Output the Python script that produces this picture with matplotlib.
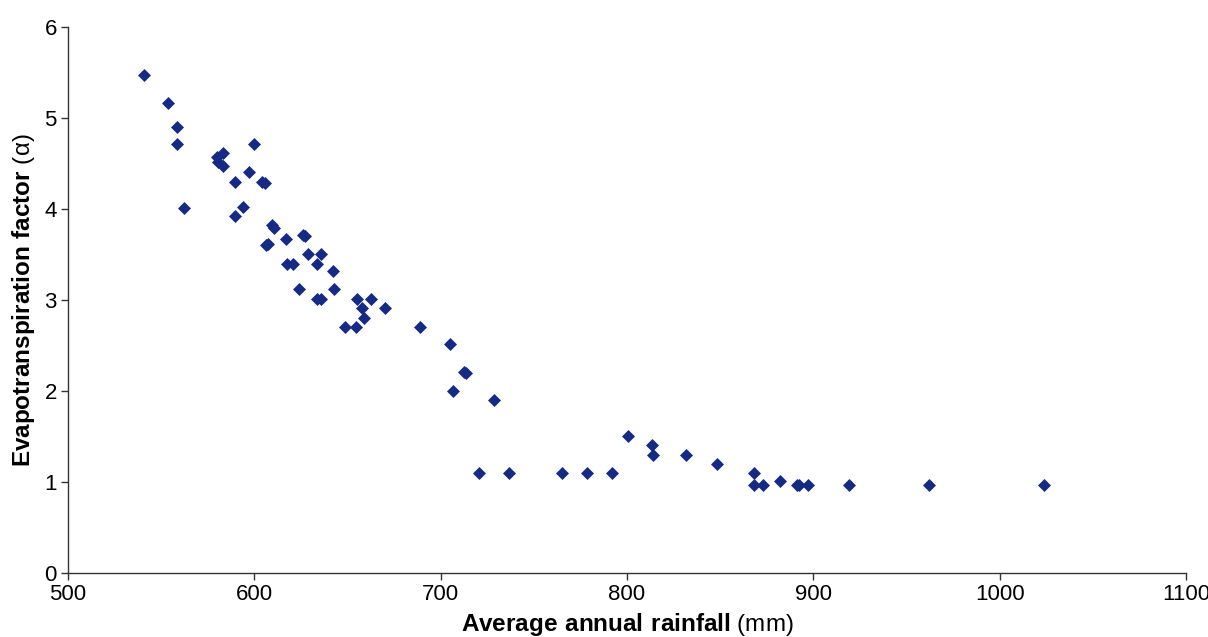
import numpy as np
import matplotlib.pyplot as plt

plt.rcParams['font.family'] = ['Liberation Sans', 'DejaVu Sans']
plt.rcParams['mathtext.fontset'] = 'custom'
plt.rcParams['mathtext.rm'] = 'Liberation Sans'
plt.rcParams['mathtext.bf'] = 'Liberation Sans:bold'

# rainfall (mm) and evapotranspiration factor
rainfall = [540.8, 553.7, 558.5, 558.5, 562.3, 599.8,
            579.8, 583.0, 580.5, 583.0, 589.6, 597.1, 604.0, 605.8,
            589.6, 594.1, 609.3, 610.6, 616.8, 626.0, 627.2, 606.0, 607.2,
            617.7, 620.6, 629.0, 635.6, 633.4, 642.0, 624.1, 643.0,
            633.8, 635.8, 655.1, 662.6, 658.0, 670.3, 659.0,
            648.5, 654.4, 689.0, 705.0, 712.4, 713.6, 706.8, 728.6,
            720.7, 736.8, 765.0, 778.3, 792.1, 800.7, 813.2, 813.8, 831.7,
            848.5, 868.2, 868.2, 872.8, 882.1, 891.0, 892.5, 897.3,
            919.2, 962.1, 1024.0]
alpha = [5.47, 5.16, 4.90, 4.71, 4.01, 4.71,
         4.575, 4.61, 4.52, 4.47, 4.30, 4.41, 4.30, 4.29,
         3.92, 4.02, 3.82, 3.79, 3.67, 3.71, 3.70, 3.60, 3.61,
         3.40, 3.40, 3.51, 3.51, 3.40, 3.32, 3.12, 3.12,
         3.01, 3.01, 3.01, 3.01, 2.91, 2.91, 2.80,
         2.70, 2.70, 2.70, 2.52, 2.21, 2.20, 2.00, 1.90,
         1.10, 1.10, 1.10, 1.10, 1.10, 1.51, 1.41, 1.30, 1.30,
         1.20, 1.10, 0.97, 0.97, 1.01, 0.97, 0.97, 0.97,
         0.97, 0.97, 0.97]

x_ticks = [500, 600, 700, 800, 900, 1000, 1100]
y_ticks = [0, 1, 2, 3, 4, 5, 6]

fig = plt.figure(figsize=(12.08, 6.37), dpi=100)
ax = fig.add_axes([68 / 1208, 64 / 637, 1118 / 1208, 546 / 637])

ax.scatter(rainfall, alpha, marker='D', s=44, color='#172a83', linewidths=0, zorder=3)

ax.set_xlim(500, 1100)
ax.set_ylim(0, 6)
ax.set_xticks(x_ticks)
ax.set_yticks(y_ticks)
ax.spines['top'].set_visible(False)
ax.spines['right'].set_visible(False)
for s in ['left', 'bottom']:
    ax.spines[s].set_color('#333333')
    ax.spines[s].set_linewidth(1.0)
ax.tick_params(direction='out', length=5, width=1, color='#333333',
               labelsize=16, pad=3)

ax.set_xlabel(r'$\bf{Average\ annual\ rainfall}$ (mm)', fontsize=17.5, labelpad=4)
ax.set_ylabel(r'$\bf{Evapotranspiration\ factor}$ (α)', fontsize=17.5, labelpad=5)

fig.savefig('out.png', dpi=100)
